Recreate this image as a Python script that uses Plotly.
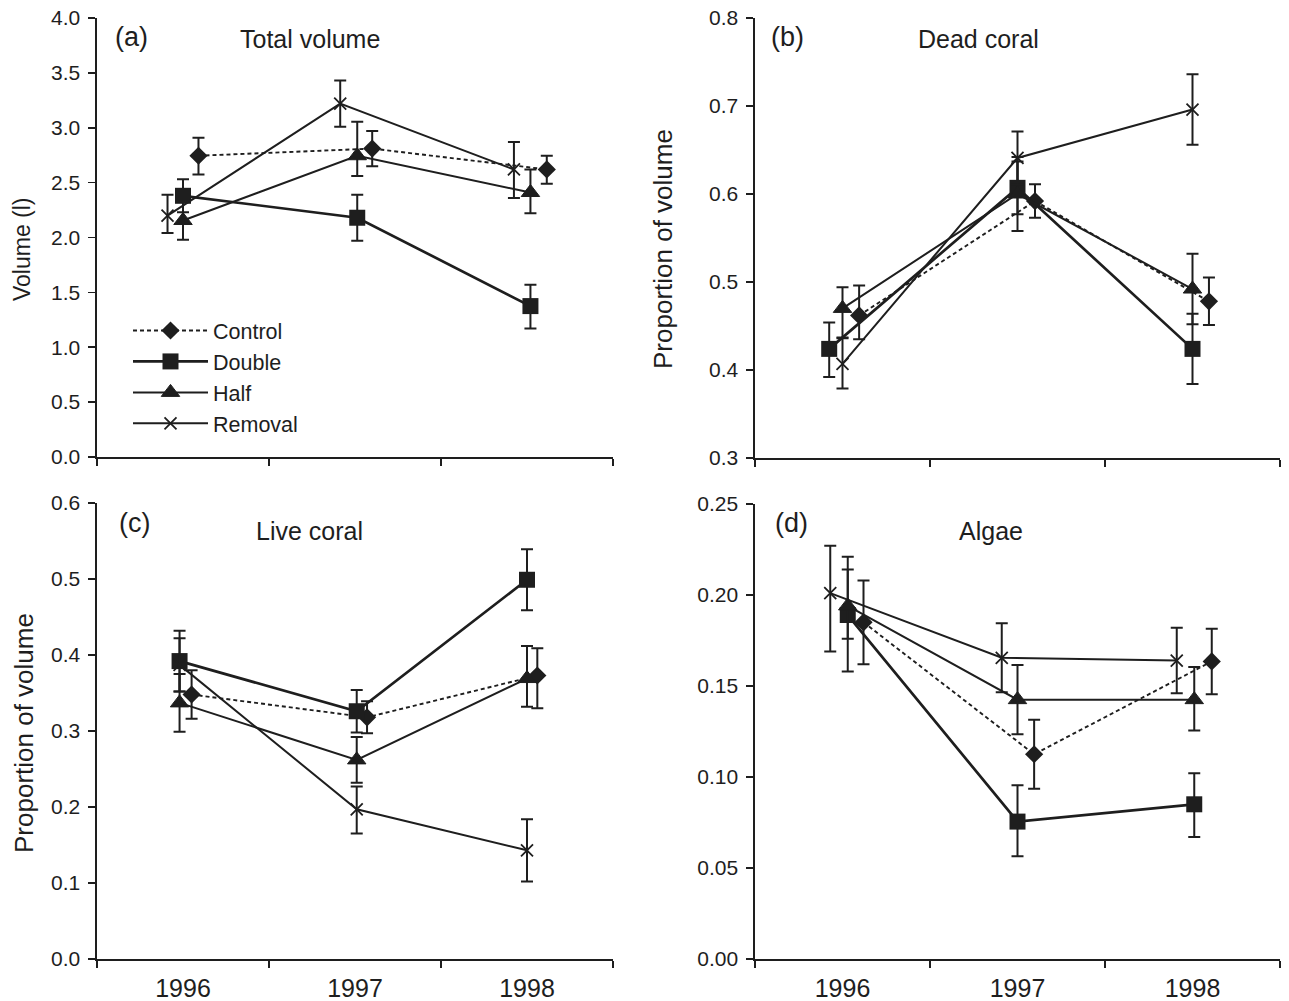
import plotly.graph_objects as go

# ---------------- data ----------------
YEARS = ["1996", "1997", "1998"]
SERIES = ["Control", "Double", "Half", "Removal"]

# (a) Total volume (l)
total_control = [2.745, 2.81, 2.62]
total_control_up = [0.165, 0.16, 0.125]
total_control_dn = [0.17, 0.16, 0.13]
total_double = [2.38, 2.18, 1.375]
total_double_up = [0.15, 0.21, 0.195]
total_double_dn = [0.15, 0.21, 0.205]
total_half = [2.155, 2.745, 2.41]
total_half_up = [0.17, 0.31, 0.21]
total_half_dn = [0.175, 0.185, 0.19]
total_removal = [2.20, 3.22, 2.62]
total_removal_up = [0.19, 0.21, 0.25]
total_removal_dn = [0.16, 0.21, 0.26]

# (b) Dead coral (proportion of volume)
dead_control = [0.462, 0.592, 0.478]
dead_control_up = [0.034, 0.019, 0.027]
dead_control_dn = [0.027, 0.019, 0.027]
dead_double = [0.424, 0.607, 0.424]
dead_double_up = [0.03, 0.03, 0.04]
dead_double_dn = [0.032, 0.03, 0.04]
dead_half = [0.470, 0.600, 0.492]
dead_half_up = [0.024, 0.042, 0.04]
dead_half_dn = [0.034, 0.042, 0.04]
dead_removal = [0.407, 0.641, 0.696]
dead_removal_up = [0.03, 0.03, 0.04]
dead_removal_dn = [0.028, 0.03, 0.04]

# (c) Live coral (proportion of volume)
live_control = [0.348, 0.318, 0.373]
live_control_up = [0.032, 0.021, 0.036]
live_control_dn = [0.032, 0.021, 0.043]
live_double = [0.392, 0.326, 0.499]
live_double_up = [0.04, 0.028, 0.04]
live_double_dn = [0.04, 0.028, 0.04]
live_half = [0.337, 0.262, 0.369]
live_half_up = [0.038, 0.03, 0.043]
live_half_dn = [0.038, 0.03, 0.037]
live_removal = [0.387, 0.197, 0.143]
live_removal_up = [0.035, 0.03, 0.041]
live_removal_dn = [0.035, 0.032, 0.041]

# (d) Algae (proportion of volume)
algae_control = [0.185, 0.1125, 0.1635]
algae_control_up = [0.023, 0.019, 0.018]
algae_control_dn = [0.023, 0.019, 0.018]
algae_double = [0.189, 0.0755, 0.085]
algae_double_up = [0.025, 0.02, 0.017]
algae_double_dn = [0.013, 0.019, 0.018]
algae_half = [0.194, 0.1425, 0.1425]
algae_half_up = [0.027, 0.019, 0.018]
algae_half_dn = [0.036, 0.019, 0.017]
algae_removal = [0.201, 0.1655, 0.164]
algae_removal_up = [0.026, 0.019, 0.018]
algae_removal_dn = [0.032, 0.019, 0.018]

PANEL_DATA = {
    "a": {"Control": (total_control, total_control_up, total_control_dn),
          "Double": (total_double, total_double_up, total_double_dn),
          "Half": (total_half, total_half_up, total_half_dn),
          "Removal": (total_removal, total_removal_up, total_removal_dn)},
    "b": {"Control": (dead_control, dead_control_up, dead_control_dn),
          "Double": (dead_double, dead_double_up, dead_double_dn),
          "Half": (dead_half, dead_half_up, dead_half_dn),
          "Removal": (dead_removal, dead_removal_up, dead_removal_dn)},
    "c": {"Control": (live_control, live_control_up, live_control_dn),
          "Double": (live_double, live_double_up, live_double_dn),
          "Half": (live_half, live_half_up, live_half_dn),
          "Removal": (live_removal, live_removal_up, live_removal_dn)},
    "d": {"Control": (algae_control, algae_control_up, algae_control_dn),
          "Double": (algae_double, algae_double_up, algae_double_dn),
          "Half": (algae_half, algae_half_up, algae_half_dn),
          "Removal": (algae_removal, algae_removal_up, algae_removal_dn)},
}

# ---------------- style ----------------
W, H = 1289, 1001
OFF = 0  # page body margin is removed below, so the figure starts at (0, 0)
INK = "#1e1e1e"
FONT = "Liberation Sans, Arial, Helvetica, sans-serif"

# horizontal dodge of the series around each year (category units)
DODGE = {
    "a": {"Control": [0.09, 0.10, 0.115], "Double": [0.0, 0.013, 0.02],
          "Half": [0.0, 0.013, 0.02], "Removal": [-0.09, -0.086, -0.076]},
    "b": {"Control": [0.095, 0.10, 0.094], "Double": [-0.076, 0.0, 0.0],
          "Half": [0.0, 0.0, 0.0], "Removal": [0.0, 0.0, 0.0]},
    "c": {"Control": [0.05, 0.07, 0.06], "Double": [-0.02, 0.01, 0.0],
          "Half": [-0.02, 0.01, 0.0], "Removal": [-0.02, 0.01, 0.0]},
    "d": {"Control": [0.12, 0.095, 0.11], "Double": [0.03, 0.0, 0.01],
          "Half": [0.03, 0.0, 0.01], "Removal": [-0.07, -0.09, -0.09]},
}

STYLE = {
    "Control": dict(line=dict(color=INK, width=1.9, dash="4px,3px"),
                    marker=dict(symbol="diamond", size=14, color=INK)),
    "Double": dict(line=dict(color=INK, width=2.7),
                   marker=dict(symbol="square", size=16, color=INK)),
    "Half": dict(line=dict(color=INK, width=2.0),
                 marker=dict(symbol="triangle-up", size=16, color=INK,
                             line=dict(color=INK, width=1))),
    "Removal": dict(line=dict(color=INK, width=2.0),
                    marker=dict(symbol="x-thin-open", size=12, color=INK,
                                line=dict(color=INK, width=1.8))),
}

# panel geometry in reference pixels: left, right, top, bottom
GEOM = {
    "a": (97, 613, 18, 457),
    "b": (755, 1280, 18, 458),
    "c": (97, 613, 503, 959),
    "d": (755, 1280, 504, 959),
}
AXES = {"a": ("x", "y"), "b": ("x2", "y2"), "c": ("x3", "y3"), "d": ("x4", "y4")}
YRANGE = {"a": (0, 4.0, 0.5, ".1f"), "b": (0.3, 0.8, 0.1, ".1f"),
          "c": (0, 0.6, 0.1, ".1f"), "d": (0, 0.25, 0.05, ".2f")}


def fx(px):
    return (px - OFF) / W


def fy(py):
    return 1 - (py - OFF) / H


fig = go.Figure()

for key in ["a", "b", "c", "d"]:
    xa, ya = AXES[key]
    for name in SERIES:
        mean, up, dn = PANEL_DATA[key][name]
        xs = [i + d for i, d in enumerate(DODGE[key][name])]
        st = STYLE[name]
        fig.add_trace(go.Scatter(
            x=xs, y=mean, mode="lines+markers", name=name,
            xaxis=xa, yaxis=ya,
            line=st["line"], marker=st["marker"],
            error_y=dict(type="data", symmetric=False, array=up, arrayminus=dn,
                         color=INK, thickness=2, width=6),
            showlegend=(key == "a"),
        ))

layout_axes = {}
for key in ["a", "b", "c", "d"]:
    l, r, t, b = GEOM[key]
    xa, ya = AXES[key]
    xname = "xaxis" + xa[1:]
    yname = "yaxis" + ya[1:]
    bottom_row = key in ("c", "d")
    layout_axes[xname] = dict(
        domain=[fx(l), fx(r)], anchor=ya, range=[-0.5, 2.5],
        automargin=False, ticklabeloverflow="allow",
        tickmode="array", tickvals=[0, 1, 2],
        ticktext=YEARS if bottom_row else ["", "", ""],
        ticks="", showticklabels=bottom_row,
        tickfont=dict(size=25, color=INK, family=FONT),
        ticklabelstandoff=6,
        minor=dict(tickmode="array", tickvals=[-0.5, 0.5, 1.5, 2.5],
                   ticks="outside", ticklen=7, tickwidth=1.6, tickcolor=INK),
        showline=True, linecolor=INK, linewidth=1.6,
        showgrid=False, zeroline=False, fixedrange=True,
    )
    y0, y1, dt, fmt = YRANGE[key]
    layout_axes[yname] = dict(
        domain=[fy(b), fy(t)], anchor=xa, range=[y0, y1],
        automargin=False, ticklabeloverflow="allow",
        tick0=y0, dtick=dt, tickformat=fmt,
        ticks="outside", ticklen=7, tickwidth=1.6, tickcolor=INK,
        tickfont=dict(size=21, color=INK, family=FONT),
        ticklabelstandoff=4,
        showline=True, linecolor=INK, linewidth=1.6,
        showgrid=False, zeroline=False, fixedrange=True,
    )

ann = []


def px_ann(text, x, y, size, angle=0):
    ann.append(dict(text=text, x=fx(x), y=fy(y), xref="paper", yref="paper",
                    showarrow=False, xanchor="center", yanchor="middle",
                    textangle=angle, font=dict(size=size, color=INK, family=FONT)))


px_ann("(a)", 131, 37, 27)
px_ann("Total volume", 310, 39, 25)
px_ann("(b)", 787, 37, 27)
px_ann("Dead coral", 978, 39, 25)
px_ann("(c)", 134, 523, 27)
px_ann("Live coral", 309, 531, 25)
px_ann("(d)", 791, 523, 27)
px_ann("Algae", 991, 531, 25)
px_ann("Volume (l)", 22, 249, 23, -90)
px_ann("Proportion of volume", 663, 249, 26, -90)
px_ann("Proportion of volume", 24, 733, 26, -90)

fig.update_layout(
    width=W, height=H,
    margin=dict(l=0, r=0, t=0, b=0, autoexpand=False),
    paper_bgcolor="white", plot_bgcolor="white",
    font=dict(family=FONT, color=INK),
    annotations=ann,
    legend=dict(x=fx(128), y=fy(310), xanchor="left", yanchor="top",
                bgcolor="rgba(0,0,0,0)", borderwidth=0,
                font=dict(size=21.5, color=INK, family=FONT),
                itemwidth=75, itemsizing="trace", tracegroupgap=0),
    showlegend=True,
    hovermode=False,
    **layout_axes,
)

fig.write_html("out.html",
               config={"displayModeBar": False, "staticPlot": True},
               post_script="document.body.style.margin='0';"
                           "document.body.style.overflow='hidden';")
